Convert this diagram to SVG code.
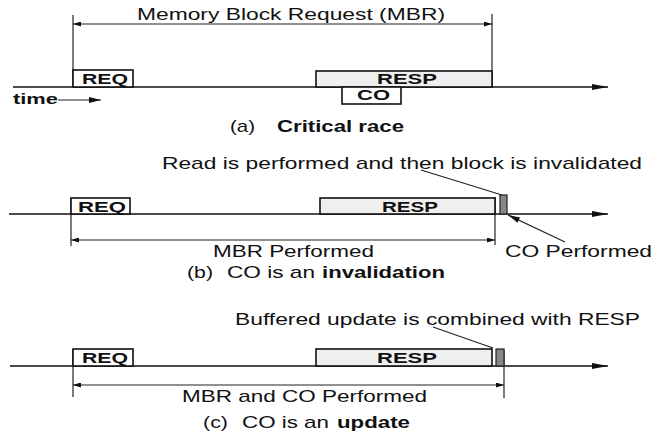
<svg xmlns="http://www.w3.org/2000/svg" width="653" height="436" viewBox="0 0 653 436">
<defs>
<style>
.ln{stroke:#111;stroke-width:1.6;fill:none}
.thin{stroke:#222;stroke-width:1.2;fill:none}
.box{fill:#fff;stroke:#111;stroke-width:1.6}
.resp{fill:#efefef;stroke:#111;stroke-width:1.6}
.co{fill:#888;stroke:#222;stroke-width:1.2}
.t{font-family:"Liberation Sans",Arial,sans-serif;font-size:17px;fill:#111}
.b{font-family:"Liberation Sans",Arial,sans-serif;font-size:15.5px;font-weight:bold;fill:#111}
.bb{font-family:"Liberation Sans",Arial,sans-serif;font-size:17px;font-weight:bold;fill:#111}
</style>
<marker id="ah" viewBox="0 0 16 6" refX="16" refY="3" markerWidth="16" markerHeight="6" markerUnits="userSpaceOnUse" orient="auto">
<path d="M0,0 L16,3 L0,6 Z" fill="#111"/>
</marker>
<marker id="sh" viewBox="0 0 8 5" refX="8" refY="2.5" markerWidth="8" markerHeight="5" markerUnits="userSpaceOnUse" orient="auto-start-reverse">
<path d="M0,0 L8,2.5 L0,5 Z" fill="#111"/>
</marker>
<marker id="lh" viewBox="0 0 12 6" refX="12" refY="3" markerWidth="12" markerHeight="6" markerUnits="userSpaceOnUse" orient="auto">
<path d="M0,0 L12,3 L0,6 Z" fill="#111"/>
</marker>
</defs>
<rect width="653" height="436" fill="#fff"/>

<g id="connectors">
<line class="ln" x1="13" y1="87" x2="608" y2="87" marker-end="url(#ah)"/>
<line class="thin" x1="73" y1="15" x2="73" y2="87"/>
<line class="thin" x1="492" y1="14" x2="492" y2="87"/>
<line class="thin" x1="73" y1="24" x2="492" y2="24" marker-start="url(#sh)" marker-end="url(#sh)"/>
<line class="thin" x1="58" y1="100" x2="101" y2="100" marker-end="url(#lh)"/>
<line class="ln" x1="9" y1="214" x2="608" y2="214" marker-end="url(#ah)"/>
<line class="thin" x1="71" y1="198" x2="71" y2="246"/>
<line class="thin" x1="495" y1="197" x2="495" y2="245"/>
<line class="thin" x1="71" y1="240" x2="495" y2="240" marker-start="url(#sh)" marker-end="url(#sh)"/>
<line class="thin" x1="421" y1="170" x2="502" y2="195"/>
<line class="thin" x1="565" y1="242" x2="508" y2="215" marker-end="url(#lh)"/>
<line class="ln" x1="10" y1="366" x2="608" y2="366" marker-end="url(#ah)"/>
<line class="thin" x1="73" y1="349" x2="73" y2="397"/>
<line class="thin" x1="504" y1="350" x2="504" y2="398"/>
<line class="thin" x1="73" y1="385" x2="504" y2="385" marker-start="url(#sh)" marker-end="url(#sh)"/>
<line class="thin" x1="433" y1="327" x2="493" y2="348"/>
</g>

<g id="label-mbr"><text class="t" x="137" y="20" textLength="308" lengthAdjust="spacingAndGlyphs">Memory Block Request (MBR)</text></g>
<g id="req-a"><rect class="box" x="73" y="70" width="60" height="17"/><text class="b" x="82" y="84" textLength="46" lengthAdjust="spacingAndGlyphs">REQ</text></g>
<g id="resp-a"><rect class="resp" x="316" y="71" width="176" height="16"/><text class="b" x="377" y="84" textLength="60" lengthAdjust="spacingAndGlyphs">RESP</text></g>
<g id="co-a"><rect class="box" x="342" y="87" width="59" height="17"/><text class="b" x="357" y="100" textLength="33" lengthAdjust="spacingAndGlyphs">CO</text></g>
<g id="time"><text class="b" x="13" y="104" textLength="45" lengthAdjust="spacingAndGlyphs">time</text></g>
<g id="caption-a"><text class="t" x="230" y="132" textLength="25" lengthAdjust="spacingAndGlyphs">(a)</text><text class="bb" x="277" y="132" textLength="127" lengthAdjust="spacingAndGlyphs">Critical race</text></g>

<g id="label-read"><text class="t" x="162" y="169" textLength="480" lengthAdjust="spacingAndGlyphs">Read is performed and then block is invalidated</text></g>
<g id="req-b"><rect class="box" x="71" y="198" width="59" height="16"/><text class="b" x="78" y="212" textLength="48" lengthAdjust="spacingAndGlyphs">REQ</text></g>
<g id="resp-b"><rect class="resp" x="320" y="198" width="175" height="16"/><text class="b" x="382" y="212" textLength="56" lengthAdjust="spacingAndGlyphs">RESP</text></g>
<g id="co-b"><rect class="co" x="500" y="195" width="7" height="19"/></g>
<g id="label-mbr-performed"><text class="t" x="213" y="257" textLength="161" lengthAdjust="spacingAndGlyphs">MBR Performed</text></g>
<g id="label-co-performed"><text class="t" x="505" y="257" textLength="147" lengthAdjust="spacingAndGlyphs">CO Performed</text></g>
<g id="caption-b"><text class="t" x="187" y="278" textLength="26" lengthAdjust="spacingAndGlyphs">(b)</text><text class="t" x="227" y="278" textLength="88" lengthAdjust="spacingAndGlyphs">CO is an</text><text class="bb" x="322" y="278" textLength="123" lengthAdjust="spacingAndGlyphs">invalidation</text></g>

<g id="label-buffered"><text class="t" x="235" y="325" textLength="405" lengthAdjust="spacingAndGlyphs">Buffered update is combined with RESP</text></g>
<g id="req-c"><rect class="box" x="73" y="349" width="60" height="17"/><text class="b" x="82" y="363" textLength="46" lengthAdjust="spacingAndGlyphs">REQ</text></g>
<g id="resp-c"><rect class="resp" x="316" y="349" width="176" height="17"/><text class="b" x="377" y="363" textLength="60" lengthAdjust="spacingAndGlyphs">RESP</text></g>
<g id="co-c"><rect class="co" x="496" y="349" width="8" height="17"/></g>
<g id="label-mbr-co"><text class="t" x="182" y="402" textLength="245" lengthAdjust="spacingAndGlyphs">MBR and CO Performed</text></g>
<g id="caption-c"><text class="t" x="203" y="428" textLength="25" lengthAdjust="spacingAndGlyphs">(c)</text><text class="t" x="242" y="428" textLength="87" lengthAdjust="spacingAndGlyphs">CO is an</text><text class="bb" x="337" y="428" textLength="73" lengthAdjust="spacingAndGlyphs">update</text></g>
</svg>
